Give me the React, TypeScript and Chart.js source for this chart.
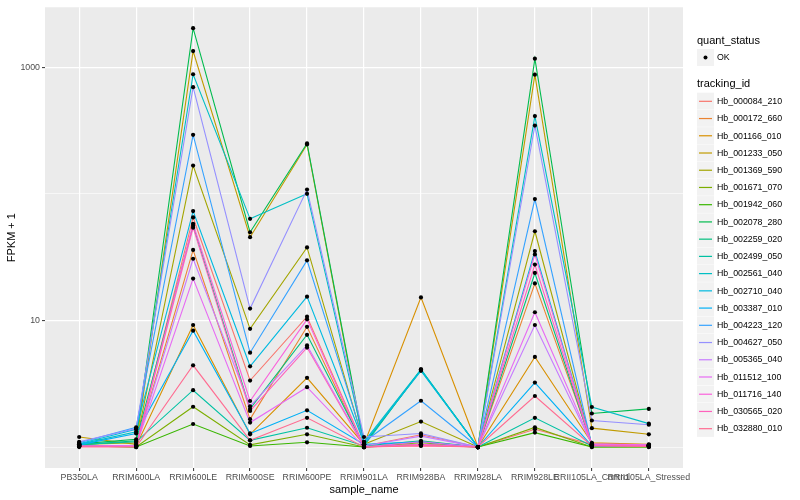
import React, { useEffect, useRef } from "react";
import { Chart, registerables } from "chart.js";

Chart.register(...registerables);

const categories = [
  "PB350LA",
  "RRIM600LA",
  "RRIM600LE",
  "RRIM600SE",
  "RRIM600PE",
  "RRIM901LA",
  "RRIM928BA",
  "RRIM928LA",
  "RRIM928LE",
  "RRII105LA_Control",
  "RRII105LA_Stressed",
];

const trackingIds = [
  "Hb_000084_210",
  "Hb_000172_660",
  "Hb_001166_010",
  "Hb_001233_050",
  "Hb_001369_590",
  "Hb_001671_070",
  "Hb_001942_060",
  "Hb_002078_280",
  "Hb_002259_020",
  "Hb_002499_050",
  "Hb_002561_040",
  "Hb_002710_040",
  "Hb_003387_010",
  "Hb_004223_120",
  "Hb_004627_050",
  "Hb_005365_040",
  "Hb_011512_100",
  "Hb_011716_140",
  "Hb_030565_020",
  "Hb_032880_010",
];

const trackingColors = [
  "#F8766D", "#EA8331", "#D89000", "#C09B00", "#A3A500",
  "#7CAE00", "#39B600", "#00BB4E", "#00BF7D", "#00C1A3",
  "#00BFC4", "#00BAE0", "#00B0F6", "#35A2FF", "#9590FF",
  "#C77CFF", "#E76BF3", "#FA62DB", "#FF62BC", "#FF6C91",
];

// FPKM + 1 per sample, in category order
const hb000084_210 = [1.02, 1.03, 65, 3.35, 10.7, 1.02, 1.25, 1.0, 1.38, 1.05, 1.03];
const hb000172_660 = [1.02, 1.02, 36, 1.66, 8.9, 1.0, 1.05, 1.0, 19.6, 1.06, 1.04];
const hb001166_010 = [1.03, 1.02, 9.2, 1.26, 3.52, 1.05, 15.2, 1.0, 5.15, 1.08, 1.05];
const hb001233_050 = [1.2, 1.05, 1340, 45.4, 245, 1.0, 1.1, 1.0, 873, 1.41, 1.26];
const hb001369_590 = [1.05, 1.08, 167, 8.58, 37.7, 1.05, 1.59, 1.0, 50.6, 1.04, 1.02];
const hb001671_070 = [1.02, 1.0, 2.08, 1.04, 1.26, 1.0, 1.08, 1.0, 1.43, 1.0, 1.0];
const hb001942_060 = [1.02, 1.0, 1.52, 1.02, 1.09, 1.0, 1.04, 1.0, 1.3, 1.0, 1.0];
const hb002078_280 = [1.06, 1.15, 2030, 49.7, 250, 1.05, 4.05, 1.0, 1166, 1.84, 2.0];
const hb002259_020 = [1.04, 1.12, 56, 2.0, 7.7, 1.02, 1.12, 1.0, 23.7, 1.03, 1.02];
const hb002499_050 = [1.05, 1.1, 2.81, 1.13, 1.42, 1.02, 4.1, 1.0, 1.7, 1.02, 1.02];
const hb002561_040 = [1.05, 1.32, 879, 63.4, 100, 1.1, 4.1, 1.0, 411, 2.07, 1.53];
const hb002710_040 = [1.06, 1.38, 73, 4.34, 15.4, 1.08, 4.0, 1.0, 35.3, 1.05, 1.03];
const hb003387_010 = [1.04, 1.28, 8.3, 1.28, 1.95, 1.05, 1.1, 1.0, 3.23, 1.02, 1.01];
const hb004223_120 = [1.08, 1.43, 292, 5.56, 29.8, 1.1, 2.32, 1.0, 90.9, 1.03, 1.02];
const hb004627_050 = [1.1, 1.4, 695, 12.4, 108, 1.2, 1.28, 1.0, 346, 1.62, 1.5];
const hb005365_040 = [1.02, 1.03, 30.7, 2.1, 6.34, 1.02, 1.22, 1.0, 9.2, 1.05, 1.03];
const hb011512_100 = [1.02, 1.02, 21.4, 1.56, 2.97, 1.0, 1.1, 1.0, 11.6, 1.06, 1.04];
const hb011716_140 = [1.01, 1.02, 58, 2.31, 10.2, 1.0, 1.05, 1.0, 33.2, 1.04, 1.03];
const hb030565_020 = [1.01, 1.01, 54, 1.93, 6.1, 1.0, 1.03, 1.0, 27.6, 1.03, 1.02];
const hb032880_010 = [1.0, 1.0, 4.42, 1.13, 1.7, 1.0, 1.02, 1.0, 2.53, 1.02, 1.01];

const seriesValues = [
  hb000084_210, hb000172_660, hb001166_010, hb001233_050, hb001369_590,
  hb001671_070, hb001942_060, hb002078_280, hb002259_020, hb002499_050,
  hb002561_040, hb002710_040, hb003387_010, hb004223_120, hb004627_050,
  hb005365_040, hb011512_100, hb011716_140, hb030565_020, hb032880_010,
];

const yGridValues = [1, 10, 100, 1000];
const yLabelValues = [10, 1000];
const quantStatusLabels = ["OK"];

const FONT = '"Liberation Sans", Arial, Helvetica, sans-serif';

const panelBackground = {
  id: "panelBackground",
  beforeDraw(chart: any) {
    const { ctx, chartArea } = chart;
    ctx.save();
    ctx.fillStyle = "#EBEBEB";
    ctx.fillRect(chartArea.left, chartArea.top, chartArea.right - chartArea.left, chartArea.bottom - chartArea.top);
    ctx.restore();
  },
};

const ggLegend = {
  id: "ggLegend",
  afterDraw(chart: any) {
    const { ctx } = chart;
    const x0 = 697;
    ctx.save();
    ctx.textBaseline = "middle";
    ctx.textAlign = "left";
    ctx.fillStyle = "#000000";
    ctx.font = `11px ${FONT}`;
    ctx.fillText("quant_status", x0, 41);
    quantStatusLabels.forEach((lab, i) => {
      const y = 49 + i * 17.2;
      ctx.fillStyle = "#F2F2F2";
      ctx.fillRect(x0, y, 17, 17);
      ctx.fillStyle = "#000000";
      ctx.beginPath();
      ctx.arc(x0 + 8.5, y + 8.5, 2, 0, Math.PI * 2);
      ctx.fill();
      ctx.font = `8.8px ${FONT}`;
      ctx.fillText(lab, x0 + 20, y + 8.8);
    });
    ctx.font = `11px ${FONT}`;
    ctx.fillStyle = "#000000";
    ctx.fillText("tracking_id", x0, 84);
    const step = 17.23;
    trackingIds.forEach((id, i) => {
      const y = 92.7 + i * step;
      ctx.fillStyle = "#F2F2F2";
      ctx.fillRect(x0, y, 17, step - 0.4);
      ctx.strokeStyle = trackingColors[i];
      ctx.lineWidth = 1.2;
      ctx.beginPath();
      ctx.moveTo(x0 + 2, y + step / 2);
      ctx.lineTo(x0 + 15, y + step / 2);
      ctx.stroke();
      ctx.fillStyle = "#000000";
      ctx.font = `8.8px ${FONT}`;
      ctx.fillText(id, x0 + 20, y + step / 2 + 0.3);
    });
    ctx.restore();
  },
};

export default function App() {
  const canvasRef = useRef<HTMLCanvasElement | null>(null);

  useEffect(() => {
    const canvas = canvasRef.current;
    if (!canvas) return;

    const lineSets = seriesValues.map((vals, i) => ({
      label: trackingIds[i],
      data: vals.map((v, j) => ({ x: j, y: v })),
      borderColor: trackingColors[i],
      backgroundColor: trackingColors[i],
      borderWidth: 1.1,
      pointRadius: 0,
      tension: 0,
      fill: false,
      order: 100 - i,
    }));
    const pointSets = seriesValues.map((vals, i) => ({
      label: trackingIds[i] + " OK",
      data: vals.map((v, j) => ({ x: j, y: v })),
      showLine: false,
      pointRadius: 2.1,
      pointBorderWidth: 0,
      pointBackgroundColor: "#000000",
      borderColor: "#000000",
      order: 0,
    }));

    const chart = new Chart(canvas, {
      type: "line",
      data: { datasets: [...lineSets, ...pointSets] as any },
      plugins: [panelBackground, ggLegend],
      options: {
        animation: false,
        responsive: false,
        devicePixelRatio: window.devicePixelRatio || 1,
        layout: { padding: { left: 0, top: 3, right: 117, bottom: 0 } },
        plugins: { legend: { display: false }, tooltip: { enabled: false } },
        scales: {
          x: {
            type: "linear",
            bounds: "data",
            min: -0.6,
            max: categories.length - 1 + 0.6,
            afterBuildTicks: (scale: any) => {
              scale.ticks = categories.map((_, i) => ({ value: i }));
            },
            afterFit: (scale: any) => {
              scale.height = 32;
            },
            ticks: {
              autoSkip: false,
              maxRotation: 0,
              minRotation: 0,
              padding: 1,
              color: "#4D4D4D",
              font: { family: FONT, size: 8.8 },
              callback: (v: any) => categories[Math.round(Number(v))] ?? "",
            },
            grid: {
              color: "#FFFFFF",
              lineWidth: 1.2,
              drawTicks: true,
              tickLength: 3,
              tickColor: "#333333",
              tickWidth: 1,
            },
            border: { display: false },
            title: {
              display: true,
              text: "sample_name",
              color: "#000000",
              font: { family: FONT, size: 11 },
              padding: { top: 0, bottom: 3.5 },
            },
          },
          y: {
            type: "logarithmic",
            bounds: "data",
            min: 0.683,
            max: 2971,
            afterBuildTicks: (scale: any) => {
              scale.ticks = yGridValues.map((v) => ({ value: v, major: yLabelValues.includes(v) }));
            },
            afterFit: (scale: any) => {
              scale.width = 45;
            },
            ticks: {
              padding: 2,
              color: "#4D4D4D",
              font: { family: FONT, size: 8.8 },
              callback: (v: any) => (yLabelValues.includes(Number(v)) ? String(v) : ""),
            },
            grid: {
              color: "#FFFFFF",
              lineWidth: (ctx: any) => (ctx.tick && yLabelValues.includes(ctx.tick.value) ? 1.2 : 0.6),
              drawTicks: true,
              tickLength: 3,
              tickColor: (ctx: any) =>
                ctx.tick && yLabelValues.includes(ctx.tick.value) ? "#333333" : "rgba(0,0,0,0)",
              tickWidth: 1,
            },
            border: { display: false },
            title: {
              display: true,
              text: "FPKM + 1",
              color: "#000000",
              font: { family: FONT, size: 11 },
              padding: { top: 5, bottom: 0 },
            },
          },
        },
      } as any,
    });

    return () => chart.destroy();
  }, []);

  return (
    <div style={{ position: "fixed", left: 0, top: 0, width: 800, height: 500, background: "#FFFFFF" }}>
      <canvas ref={canvasRef} width={800} height={500} style={{ display: "block", width: 800, height: 500 }} />
    </div>
  );
}
